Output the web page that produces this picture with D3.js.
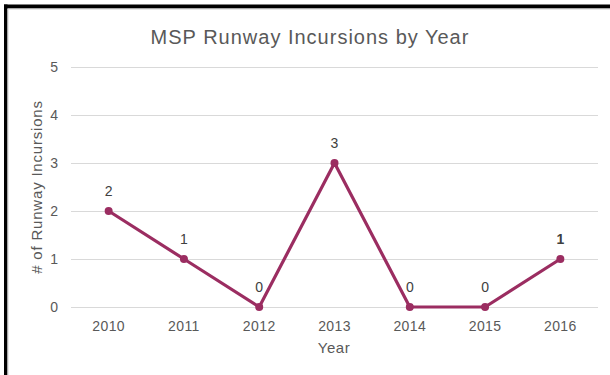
<!DOCTYPE html>
<html><head><meta charset="utf-8">
<script src="https://cdn.jsdelivr.net/npm/d3@7"></script>
<style>html,body{margin:0;padding:0;background:#fff;}svg{display:block;}</style>
</head><body>
<script>
const years = ["2010","2011","2012","2013","2014","2015","2016"];
const incursions = [2,1,0,3,0,0,1];
const yTicks = [0,1,2,3,4,5];
const title = "MSP Runway Incursions by Year";
const xTitle = "Year";
const yTitle = "# of Runway Incursions";

const W = 610, H = 375;
const svg = d3.select("body").append("svg").attr("width", W).attr("height", H);
svg.append("rect").attr("x",0).attr("y",0).attr("width",W).attr("height",H).attr("fill","#fff");
svg.append("rect").attr("x",4).attr("y",4.5).attr("width",W).attr("height",4).attr("fill","#000");
svg.append("rect").attr("x",4).attr("y",4.5).attr("width",3.5).attr("height",H).attr("fill","#000");
svg.append("line").attr("x1",7.5).attr("x2",W).attr("y1",9).attr("y2",9).attr("stroke","#d0d0d0").attr("stroke-width",1);
svg.append("line").attr("x1",8).attr("x2",8).attr("y1",9).attr("y2",H).attr("stroke","#d0d0d0").attr("stroke-width",1);

const font = "'Liberation Sans', Arial, sans-serif";
const x = d3.scaleBand().domain(years).range([71, 598]);
const y = d3.scaleLinear().domain([0,5]).range([307, 67]);

const g = svg.append("g");
const yAxis = d3.axisLeft(y).tickValues(yTicks).tickSize(-(598-71)).tickPadding(13).tickFormat(d3.format("d"));
const ya = g.append("g").attr("transform","translate(71,0)").call(yAxis);
ya.select(".domain").remove();
ya.selectAll(".tick line").attr("stroke","#d9d9d9").attr("stroke-width",1);
ya.selectAll(".tick text").attr("fill","#595959").style("font-family",font).style("font-size","14px").attr("dy","0.35em");

const xAxis = d3.axisBottom(x).tickSize(0).tickPadding(14);
const xa = g.append("g").attr("transform","translate(0,307)").call(xAxis);
xa.select(".domain").remove();
xa.selectAll(".tick text").attr("fill","#595959").style("font-family",font).style("font-size","14px").style("letter-spacing","0.4px");

const cx = d => x(d) + x.bandwidth()/2;
const data = years.map((yr,i)=>({yr, v: incursions[i]}));
const color = "#9b2d61";
g.append("path").datum(data)
  .attr("d", d3.line().x(d=>cx(d.yr)).y(d=>y(d.v)))
  .attr("fill","none").attr("stroke",color).attr("stroke-width",3.2).attr("stroke-linejoin","round");
g.selectAll("circle.pt").data(data).enter().append("circle")
  .attr("cx",d=>cx(d.yr)).attr("cy",d=>y(d.v)).attr("r",4).attr("fill",color);
g.selectAll("text.lbl").data(data).enter().append("text")
  .attr("x",d=>cx(d.yr)).attr("y",d=>y(d.v)-15)
  .attr("text-anchor","middle").attr("fill","#404040")
  .style("font-family",font).style("font-size","14px")
  .style("font-weight",(d,i)=> i===data.length-1 ? "bold" : "normal")
  .text(d=>d.v);

svg.append("text").attr("x",310).attr("y",44).attr("text-anchor","middle")
  .attr("fill","#595959").style("font-family",font).style("font-size","20px").style("letter-spacing","1px").text(title);
svg.append("text").attr("x",334).attr("y",353).attr("text-anchor","middle")
  .attr("fill","#595959").style("font-family",font).style("font-size","15px").style("letter-spacing","0.5px").text(xTitle);
svg.append("text").attr("transform","translate(42,187) rotate(-90)").attr("text-anchor","middle")
  .attr("fill","#595959").style("font-family",font).style("font-size","15px").style("letter-spacing","0.8px").text(yTitle);
</script>
</body></html>
